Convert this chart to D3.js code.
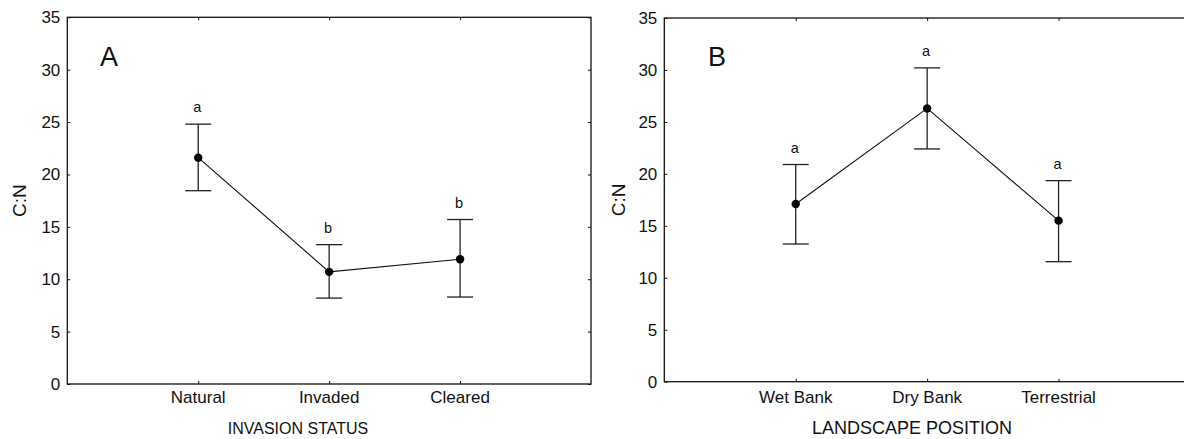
<!DOCTYPE html>
<html>
<head>
<meta charset="utf-8">
<script src="https://cdn.jsdelivr.net/npm/d3@7"></script>
<style>
  body { margin: 0; background: #fff; }
  svg { display: block; font-family: Arial, 'Liberation Sans', sans-serif; }
</style>
</head>
<body>
<script>
// panel A: invasion status
const statusCats = ['Natural', 'Invaded', 'Cleared']
const statusMean = [21.6, 10.7, 11.9]
const statusUpper = [24.8, 13.3, 15.7]
const statusLower = [18.45, 8.2, 8.3]
const statusLetters = ['a', 'b', 'b']

// panel B: landscape position
const positionCats = ['Wet Bank', 'Dry Bank', 'Terrestrial']
const positionMean = [17.1, 26.3, 15.5]
const positionUpper = [20.9, 30.2, 19.35]
const positionLower = [13.25, 22.4, 11.55]
const positionLetters = ['a', 'a', 'a']

const yTicks = [0, 5, 10, 15, 20, 25, 30, 35]

let width = 1184
let height = 439

let svg = d3.select('body').append('svg')
  .attr('width', width)
  .attr('height', height)

drawPanel({
  left: 67.3, right: 591, top: 17.3, bottom: 384,
  cats: statusCats, mean: statusMean, upper: statusUpper, lower: statusLower, letters: statusLetters,
  tag: 'A', tagX: 100, title: 'INVASION STATUS', titleSize: 16, titleX: 298, titleY: 434,
  catY: 403, ylabX: 19
})

drawPanel({
  left: 664.3, right: 1190, top: 18, bottom: 381.7,
  cats: positionCats, mean: positionMean, upper: positionUpper, lower: positionLower, letters: positionLetters,
  tag: 'B', tagX: 708, title: 'LANDSCAPE POSITION', titleSize: 18, titleX: 912, titleY: 434,
  catY: 403, ylabX: 618.4
})

function drawPanel (p) {
  let x = d3.scalePoint()
    .domain(p.cats)
    .range([p.left, p.right])
    .padding(1)

  let y = d3.scaleLinear()
    .domain([0, 35])
    .range([p.bottom, p.top])

  let g = svg.append('g')

  // inside ticks on all four sides
  g.append('g')
    .attr('transform', `translate(${p.left},0)`)
    .call(d3.axisLeft(y).tickValues(yTicks).tickSize(-3).tickPadding(7))
    .call(s => s.select('.domain').remove())
    .call(s => s.selectAll('text').attr('font-size', 17).attr('fill', '#111').attr('font-family', null))

  g.append('g')
    .attr('transform', `translate(${p.right},0)`)
    .call(d3.axisRight(y).tickValues(yTicks).tickSize(-3).tickFormat(''))
    .call(s => s.select('.domain').remove())

  g.append('g')
    .attr('transform', `translate(0,${p.bottom})`)
    .call(d3.axisBottom(x).tickSize(-3).tickFormat(''))
    .call(s => s.select('.domain').remove())

  g.append('g')
    .attr('transform', `translate(0,${p.top})`)
    .call(d3.axisTop(x).tickSize(-3).tickFormat(''))
    .call(s => s.select('.domain').remove())

  g.selectAll('.tick line').attr('stroke', '#111').attr('stroke-width', 1)

  g.append('rect')
    .attr('x', p.left)
    .attr('y', p.top)
    .attr('width', p.right - p.left)
    .attr('height', p.bottom - p.top)
    .attr('fill', 'none')
    .attr('stroke', '#111')
    .attr('stroke-width', 1.3)

  // category labels
  g.selectAll('.cat')
    .data(p.cats)
    .enter().append('text')
    .attr('class', 'cat')
    .attr('x', d => x(d))
    .attr('y', p.catY)
    .attr('text-anchor', 'middle')
    .attr('font-size', 17)
    .attr('fill', '#111')
    .text(d => d)

  g.append('text')
    .attr('x', p.titleX)
    .attr('y', p.titleY)
    .attr('text-anchor', 'middle')
    .attr('font-size', p.titleSize)
    .attr('fill', '#111')
    .text(p.title)

  g.append('text')
    .attr('transform', `translate(${p.ylabX},${(p.top + p.bottom) / 2}) rotate(-90)`)
    .attr('text-anchor', 'middle')
    .attr('dy', '0.35em')
    .attr('font-size', 19)
    .attr('fill', '#111')
    .text('C:N')

  g.append('text')
    .attr('x', p.tagX)
    .attr('y', 66)
    .attr('font-size', 27)
    .attr('fill', '#111')
    .text(p.tag)

  let idx = d3.range(p.cats.length)

  // error bars
  g.selectAll('.bar')
    .data(idx)
    .enter().append('line')
    .attr('x1', i => x(p.cats[i]))
    .attr('x2', i => x(p.cats[i]))
    .attr('y1', i => y(p.lower[i]))
    .attr('y2', i => y(p.upper[i]))
    .attr('stroke', '#222')
    .attr('stroke-width', 1.3)

  ;[p.lower, p.upper].forEach(arr => {
    g.selectAll(null)
      .data(idx)
      .enter().append('line')
      .attr('x1', i => x(p.cats[i]) - 13)
      .attr('x2', i => x(p.cats[i]) + 13)
      .attr('y1', i => y(arr[i]))
      .attr('y2', i => y(arr[i]))
      .attr('stroke', '#222')
      .attr('stroke-width', 1.3)
  })

  let line = d3.line()
    .x(i => x(p.cats[i]))
    .y(i => y(p.mean[i]))

  g.append('path')
    .datum(idx)
    .attr('d', line)
    .attr('fill', 'none')
    .attr('stroke', '#111')
    .attr('stroke-width', 1.1)

  g.selectAll('.pt')
    .data(idx)
    .enter().append('circle')
    .attr('cx', i => x(p.cats[i]))
    .attr('cy', i => y(p.mean[i]))
    .attr('r', 4.2)
    .attr('fill', '#000')

  g.selectAll('.letter')
    .data(idx)
    .enter().append('text')
    .attr('x', i => x(p.cats[i]) - 1)
    .attr('y', i => y(p.upper[i]) - 12)
    .attr('text-anchor', 'middle')
    .attr('font-size', 14.5)
    .attr('fill', '#111')
    .text(i => p.letters[i])
}
</script>
</body>
</html>
